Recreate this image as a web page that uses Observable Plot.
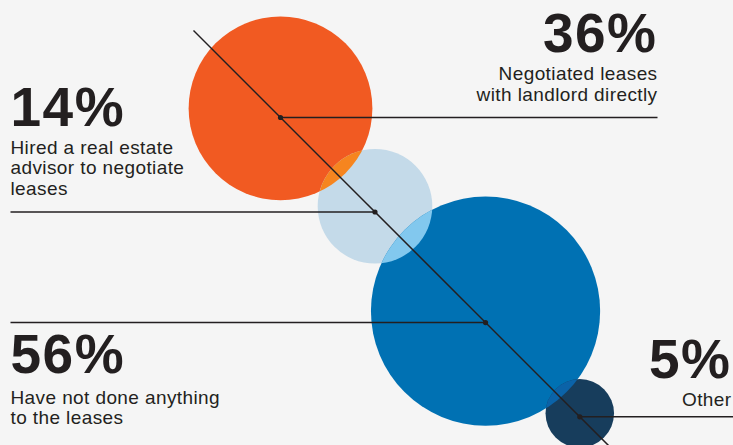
<!DOCTYPE html>
<html><head><meta charset="utf-8">
<script src="https://cdn.jsdelivr.net/npm/d3@7"></script>
<script src="https://cdn.jsdelivr.net/npm/@observablehq/plot@0.6"></script>
<style>
html,body{margin:0;padding:0;background:#f5f5f5;overflow:hidden;}
#chart svg{display:block;}
#chart [aria-label="pct"]{letter-spacing:1.5px;}
#chart [aria-label="sub"]{letter-spacing:0.4px;}
</style></head><body><div id="chart"></div>
<script>
// ---- DATA ----
const categories = ["Negotiated leases with landlord directly", "Hired a real estate advisor to negotiate leases", "Have not done anything to the leases", "Other"];
const values = [36, 14, 56, 5];
const pctLabels = ["36%", "14%", "56%", "5%"];
const labelLines = [
  ["Negotiated leases", "with landlord directly"],
  ["Hired a real estate", "advisor to negotiate", "leases"],
  ["Have not done anything", "to the leases"],
  ["Other"]
];
const fillColors = ["#F15A22", "#C4DAE9", "#0071B3", "#173D5C"];
const overlapColors = ["#F6851F", "#82C8EE", "#0B63A8"];

// ---- LAYOUT ----
const W = 733, H = 445;
const rMax = 114.6;
const rScale = d3.scaleSqrt().domain([0, d3.max(values)]).range([0, rMax]);
const overlap = 11;       // horizontal overlap between neighbouring bubbles
const x0 = 280;           // first bubble centre (x)
const diag = -163;        // diagonal: y = x + diag
const ink = "#231f20";
const font = "'Liberation Sans', Arial, Helvetica, sans-serif";
const labelLayout = [
  {side: "right", place: "above", edge: 657, lineEnd: 657, gap: 17},
  {side: "left",  place: "above", edge: 10,  lineEnd: 10,  gap: 17},
  {side: "left",  place: "below", edge: 10,  lineEnd: 10,  gap: 50},
  {side: "right", place: "above", edge: 731, lineEnd: W,   gap: 11}
];

const items = [];
let cx = x0;
values.forEach((v, i) => {
  const r = rScale(v);
  if (i > 0) cx += (rScale(values[i - 1]) + r) / Math.SQRT2 - overlap;
  const dy = cx + diag;
  items.push({category: categories[i], value: v, color: fillColors[i], px: cx, py: dy, cx: cx, cy: dy - 0.1 * r, r, i});
});

const leaders = items.map((d, i) => ({x1: d.px, y1: d.py, x2: labelLayout[i].lineEnd, y2: d.py}));

const pctRows = [], subRows = [];
const subLH = 20.5;
items.forEach((d, i) => {
  const L = labelLayout[i];
  const lines = labelLines[i];
  let first, pctY;
  if (L.place === "above") {
    const last = d.py - L.gap;
    first = last - subLH * (lines.length - 1);
    pctY = first - 28;
  } else {
    pctY = d.py + L.gap;
    first = pctY + 31;
  }
  pctRows.push({x: L.edge, y: pctY, text: pctLabels[i], side: L.side});
  lines.forEach((t, k) => subRows.push({x: L.edge, y: first + k * subLH, text: t, side: L.side}));
});

const overlapItems = items.slice(1).map((d, j) => ({...d, color: overlapColors[j]}));
const diagLine = [{x1: x0 - 87, y1: x0 - 87 + diag, x2: W + 40, y2: W + 40 + diag}];

const textMarks = [];
for (const side of ["left", "right"]) {
  const anchor = side === "left" ? "start" : "end";
  textMarks.push(Plot.text(pctRows.filter(d => d.side === side), {
    x: "x", y: "y", text: "text", textAnchor: anchor, lineAnchor: "bottom",
    fontSize: 55, fontWeight: "bold", fill: ink, fontFamily: font, ariaLabel: () => "pct"
  }));
  textMarks.push(Plot.text(subRows.filter(d => d.side === side), {
    x: "x", y: "y", text: "text", textAnchor: anchor, lineAnchor: "bottom",
    fontSize: 19, fill: ink, fontFamily: font, ariaLabel: () => "sub"
  }));
}

const plot = Plot.plot({
  width: W, height: H, margin: 0,
  x: {domain: [0, W], range: [0, W], axis: null},
  y: {domain: [0, H], range: [0, H], axis: null},
  r: {type: "sqrt", domain: [0, d3.max(values)], range: [0, rMax]},
  style: {background: "#f5f5f5", overflow: "hidden"},
  marks: [
    Plot.dot(items, {x: "cx", y: "cy", r: "value", fill: "color", stroke: "none", sort: null, ariaLabel: () => "bubble"}),
    Plot.dot(overlapItems, {x: "cx", y: "cy", r: "value", fill: "color", stroke: "none", sort: null, ariaLabel: () => "overlap"}),
    Plot.link(diagLine, {x1: "x1", y1: "y1", x2: "x2", y2: "y2", stroke: ink, strokeWidth: 1.5}),
    Plot.link(leaders, {x1: "x1", y1: "y1", x2: "x2", y2: "y2", stroke: ink, strokeWidth: 1.5}),
    Plot.dot(items, {x: "px", y: "py", r: 2.6, fill: ink, stroke: "none"}),
    ...textMarks
  ]
});

// clip each overlap disc to the previous bubble
const svg = d3.select(plot);
let bubbleNodes = svg.selectAll('[aria-label="bubble"]').nodes();
let ovNodes = svg.selectAll('[aria-label="overlap"]').nodes();
if (!bubbleNodes.length) {
  const groups = svg.selectAll('g[aria-label="dot"]').nodes();
  bubbleNodes = Array.from(groups[0].children);
  ovNodes = Array.from(groups[1].children);
}
const defs = svg.insert("defs", ":first-child");
ovNodes.forEach((node, j) => {
  const id = "ovclip-" + j;
  const cp = defs.append("clipPath").attr("id", id);
  const c = bubbleNodes[j].cloneNode();
  c.removeAttribute("fill");
  c.removeAttribute("aria-label");
  cp.node().appendChild(c);
  d3.select(node).attr("clip-path", `url(#${id})`);
});

document.getElementById("chart").appendChild(plot);
</script>
</body></html>
